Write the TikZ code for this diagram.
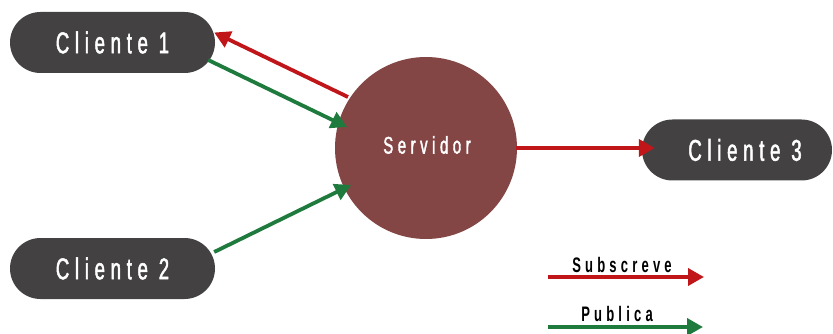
\documentclass[tikz,border=0pt]{standalone}
\usepackage{fontspec}
\usetikzlibrary{arrows.meta,calc}
\newfontfamily\pillfont[FakeStretch=0.62,LetterSpace=19,FakeBold=1.6]{Liberation Sans}
\newfontfamily\legfont[FakeStretch=0.62,LetterSpace=20]{Liberation Sans Bold}
\definecolor{pillgray}{HTML}{434142}
\definecolor{srvred}{HTML}{844545}
\definecolor{subred}{HTML}{C0161A}
\definecolor{pubgreen}{HTML}{1E7B3D}
\tikzset{
  client/.style={fill=pillgray, rounded corners=30.5pt, minimum width=205pt,
    minimum height=61pt, inner sep=0pt, text=white, font=\pillfont\fontsize{30}{30}\selectfont},
  link/.style={line width=3.8pt, -{Triangle[length=16pt,width=17pt]}},
  sub/.style={link, draw=subred},
  pub/.style={link, draw=pubgreen},
  legtext/.style={font=\legfont\fontsize{21}{21}\selectfont, text=black, inner sep=0pt}
}
\begin{document}
\begin{tikzpicture}[x=1pt,y=-1pt]
  \useasboundingbox (0,0) rectangle (833,334);

  % clients and server
  \node[client] (c1) at (112.5,42.5) {Cliente 1};
  \node[client] (c2) at (112.5,268.5) {Cliente 2};
  \node[client, minimum width=190pt] (c3) at (737,150) {\hspace*{16pt}Cliente 3};
  \node[circle, fill=srvred, minimum size=182pt, inner sep=0pt] (srv) at (426,148) {};
  \node[text=white, font=\pillfont\fontsize{24}{24}\selectfont, inner sep=0pt] (srvlbl) at (427,145) {Servidor};

  % connections
  \draw[sub] ($(srv.center)+(-78,-51)$) -- ($(c1.east)+(-1,-10)$);
  \draw[pub] ($(c1.east)+(-7,17.5)$) -- ($(srv.center)+(-79,-21)$);
  \draw[pub] ($(c2.east)+(-1,-16.5)$) -- ($(srv.center)+(-75,37)$);
  \draw[sub] ($(srv.center)+(90,0)$) -- ($(c3.west)+(13,-2)$);

  % legend
  \coordinate (s0) at (548,277);
  \coordinate (s1) at (704,277);
  \coordinate (p0) at (548,327);
  \coordinate (p1) at (703,327);
  \draw[sub] (s0) -- (s1);
  \draw[pub] (p0) -- (p1);
  \node[legtext] (stext) at (622,265) {Subscreve};
  \node[legtext] (ptext) at (617,314) {Publica};
\end{tikzpicture}
\end{document}
